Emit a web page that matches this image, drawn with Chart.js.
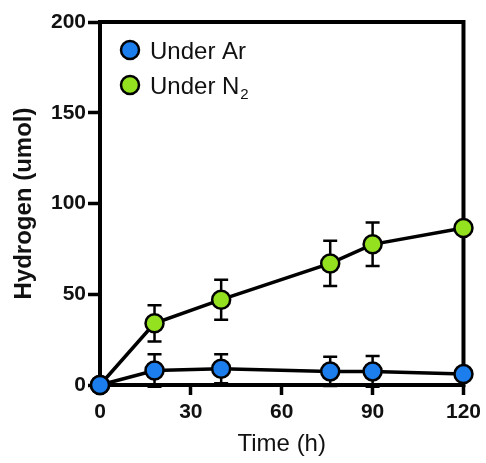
<!DOCTYPE html>
<html>
<head>
<meta charset="utf-8">
<script src="https://cdn.jsdelivr.net/npm/chart.js@4"></script>
<style>
html,body{margin:0;padding:0;background:#fff;}
#wrap{width:486px;height:463px;}
</style>
</head>
<body>
<div id="wrap"><canvas id="c" width="486" height="463"></canvas></div>
<script>
const timeH = [0, 18, 40, 76, 90, 120];
const arValues = [0, 8, 9, 7.5, 7.5, 6];
const arErrors = [0, 9, 8, 8, 8.5, 0];
const n2Values = [0, 34, 47, 67, 77.5, 86.5];
const n2Errors = [0, 10, 11, 12.5, 12, 0];
const xTicks = [0, 30, 60, 90, 120];
const yTicks = [0, 50, 100, 150, 200];
const seriesNames = ['Under Ar', 'Under N\u2082'];
const legendParts = [['Under Ar', ''], ['Under N', '2']];

const FONT = '"Liberation Sans", Arial, Helvetica, sans-serif';
const BLUE = '#1c7ded';
const GREEN = '#93e11f';

const toPts = (xs, ys) => xs.map((x, i) => ({x: x, y: ys[i]}));

const errorBars = {
  id: 'errorBars',
  beforeDatasetsDraw(chart) {
    const ctx = chart.ctx;
    const xs = chart.scales.x, ys = chart.scales.y;
    const errs = [arErrors, n2Errors];
    const vals = [arValues, n2Values];
    ctx.save();
    ctx.strokeStyle = '#000';
    ctx.lineWidth = 2.5;
    ctx.lineCap = 'butt';
    for (let d = 1; d >= 0; d--) {
      timeH.forEach((t, i) => {
        const e = errs[d][i];
        if (!e) return;
        const px = xs.getPixelForValue(t);
        const top = ys.getPixelForValue(vals[d][i] + e);
        const bot = ys.getPixelForValue(vals[d][i] - e);
        ctx.beginPath();
        ctx.moveTo(px, top); ctx.lineTo(px, bot);
        ctx.moveTo(px - 7, top); ctx.lineTo(px + 7, top);
        ctx.moveTo(px - 7, bot); ctx.lineTo(px + 7, bot);
        ctx.stroke();
      });
    }
    ctx.restore();
  }
};

const frame = {
  id: 'frame',
  beforeDatasetsDraw(chart) {
    const a = chart.chartArea, ctx = chart.ctx;
    ctx.save();
    ctx.strokeStyle = '#000';
    ctx.lineWidth = 4;
    ctx.strokeRect(a.left, a.top, a.right - a.left, a.bottom - a.top);
    ctx.restore();
  }
};

const legendBox = {
  id: 'legendBox',
  afterDraw(chart) {
    const ctx = chart.ctx, a = chart.chartArea;
    const cols = [BLUE, GREEN];
    ctx.save();
    legendParts.forEach((parts, i) => {
      const cy = a.top + 28 + i * 35;
      const cx = a.left + 30;
      ctx.beginPath();
      ctx.arc(cx, cy, 9, 0, Math.PI * 2);
      ctx.fillStyle = cols[i];
      ctx.fill();
      ctx.lineWidth = 2.5;
      ctx.strokeStyle = '#000';
      ctx.stroke();
      ctx.fillStyle = '#111';
      ctx.font = '24px ' + FONT;
      ctx.textBaseline = 'alphabetic';
      ctx.textAlign = 'left';
      const tx = cx + 20, base = cy + 9;
      ctx.fillText(parts[0], tx, base);
      if (parts[1]) {
        const w = ctx.measureText(parts[0]).width;
        ctx.font = '15px ' + FONT;
        ctx.fillText(parts[1], tx + w + 1, base + 5);
      }
    });
    ctx.restore();
  }
};

new Chart(document.getElementById('c'), {
  type: 'line',
  data: {
    datasets: [
      {
        label: seriesNames[0],
        data: toPts(timeH, arValues),
        borderColor: '#000', borderWidth: 3.5,
        backgroundColor: BLUE,
        pointBackgroundColor: BLUE, pointBorderColor: '#000',
        pointBorderWidth: 2.5, pointRadius: 9, pointHoverRadius: 9,
        clip: false, tension: 0
      },
      {
        label: seriesNames[1],
        data: toPts(timeH, n2Values),
        borderColor: '#000', borderWidth: 3.5,
        backgroundColor: GREEN,
        pointBackgroundColor: GREEN, pointBorderColor: '#000',
        pointBorderWidth: 2.5, pointRadius: 9, pointHoverRadius: 9,
        clip: false, tension: 0
      }
    ]
  },
  options: {
    responsive: false,
    animation: false,
    events: [],
    layout: {padding: {top: 22, right: 22, left: 0, bottom: 0}},
    plugins: {legend: {display: false}, tooltip: {enabled: false}},
    scales: {
      x: {
        type: 'linear', min: 0, max: 120,
        afterBuildTicks: s => { s.ticks = xTicks.map(v => ({value: v})); },
        afterFit: s => { s.height = 463 - 385; },
        border: {display: false},
        grid: {drawOnChartArea: false, drawTicks: true, tickLength: 10, tickWidth: 3.5, tickColor: '#000'},
        ticks: {color: '#111', padding: 5, font: {family: FONT, size: 21, weight: 'bold'}, maxRotation: 0},
        title: {display: true, text: 'Time (h)', color: '#111', padding: {top: 6, bottom: 4}, font: {family: FONT, size: 24}}
      },
      y: {
        min: 0, max: 200,
        afterBuildTicks: s => { s.ticks = yTicks.map(v => ({value: v})); },
        afterFit: s => { s.width = 100; },
        border: {display: false},
        grid: {drawOnChartArea: false, drawTicks: true, tickLength: 12, tickWidth: 3.5, tickColor: '#000'},
        ticks: {color: '#111', padding: 2, font: {family: FONT, size: 21, weight: 'bold'}},
        title: {display: true, text: 'Hydrogen (umol)', color: '#111', padding: {top: 10, bottom: 6}, font: {family: FONT, size: 24, weight: 'bold'}}
      }
    }
  },
  plugins: [frame, errorBars, legendBox]
});
</script>
</body>
</html>
